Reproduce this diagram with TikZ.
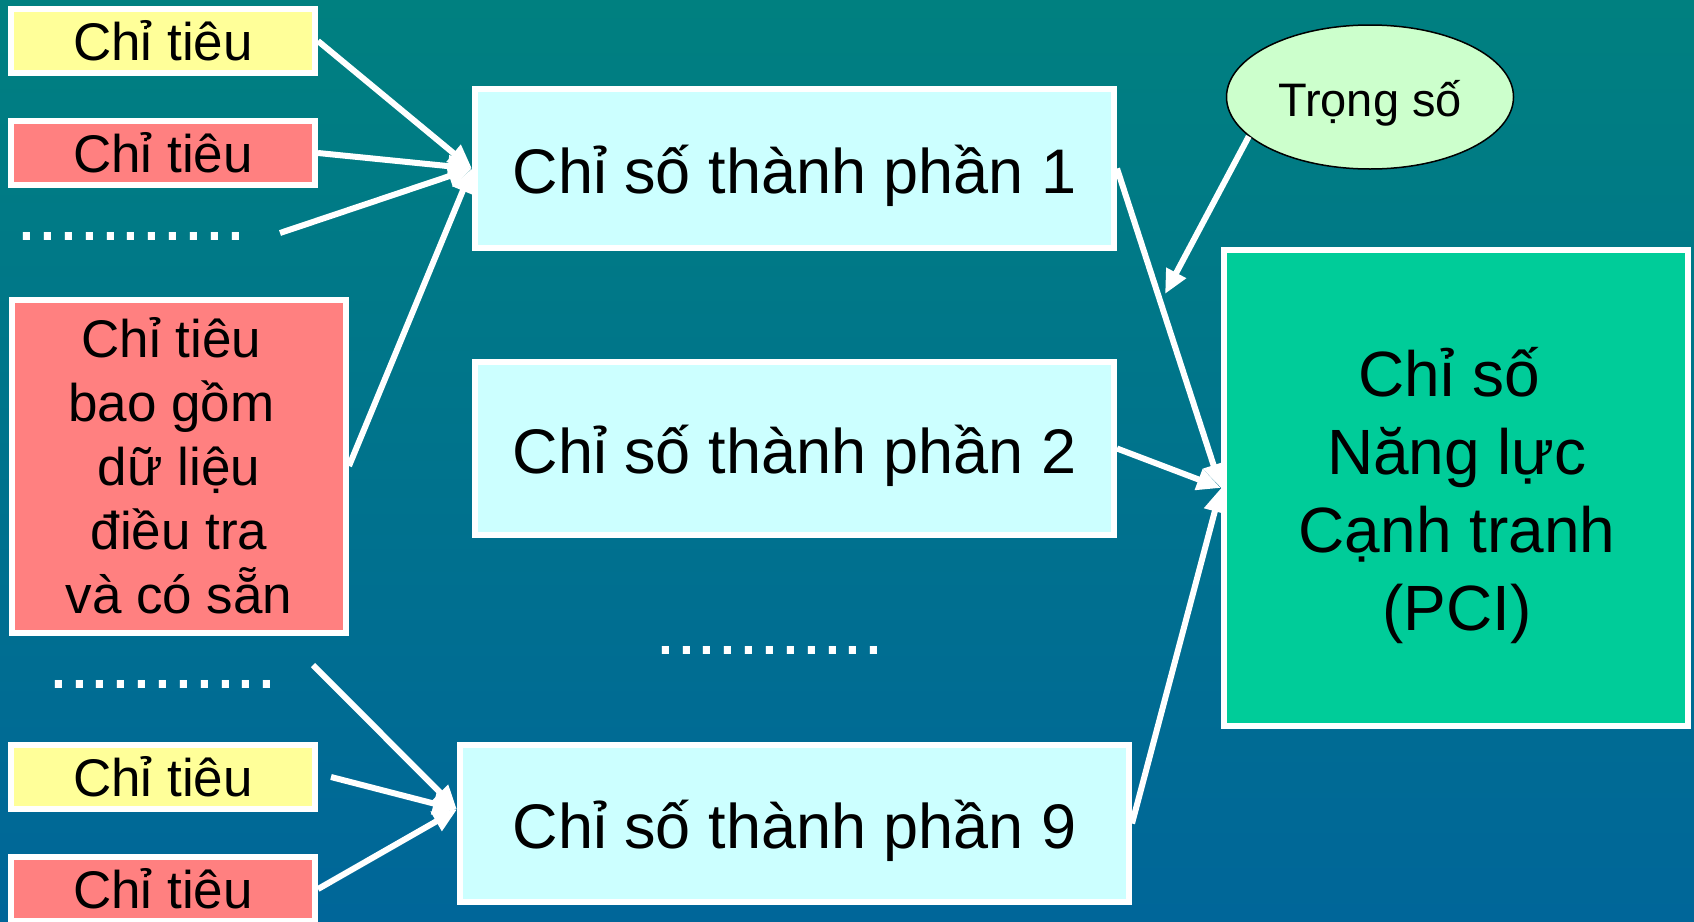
\documentclass[tikz,border=0pt]{standalone}
\usepackage{fontspec}
\setmainfont{Liberation Sans}
\usetikzlibrary{arrows.meta,shapes.geometric,calc}
\definecolor{bgtop}{RGB}{0,128,128}
\definecolor{bgbot}{RGB}{0,102,153}
\definecolor{cyel}{RGB}{255,255,153}
\definecolor{cred}{RGB}{255,128,128}
\definecolor{ccyan}{RGB}{204,255,255}
\definecolor{cgreen}{RGB}{0,204,153}
\definecolor{cell}{RGB}{204,255,204}
\begin{document}
\begin{tikzpicture}[x=1pt,y=-1pt,
  wbox/.style={draw=white,line width=6pt,inner sep=0pt,align=center,text=black},
  smallbox/.style={wbox,minimum width=304pt,minimum height=64pt,font=\fontsize{53}{64}\selectfont},
  midbox/.style={wbox,fill=ccyan,font=\fontsize{63}{76}\selectfont,text height=50pt,text depth=0pt},
  conn/.style={draw=white,line width=6pt,-{Triangle[length=24pt,width=21pt]}},
  dotrow/.style={inner sep=0pt,anchor=base west,text=white,font=\fontsize{75}{80}\selectfont}
]
\clip (0,0) rectangle (1694,921);
\shade[top color=bgtop,bottom color=bgbot] (0,0) rectangle (1694,921);

% left column
\node[smallbox,fill=cyel] (y1) at (163,41) {Chỉ tiêu};
\node[smallbox,fill=cred] (r1) at (163,153) {Chỉ tiêu};
\node[dotrow] (d1) at (16.5,240) {...........};
\node[wbox,fill=cred,minimum width=334pt,minimum height=333pt,font=\fontsize{53}{64}\selectfont] (big) at (179,466)
  {\mbox{Chỉ tiêu\kern15pt}\\\mbox{bao gồm\kern15pt}\\dữ liệu\\điều tra\\và có sẵn};
\node[dotrow] (d2) at (48,688) {...........};
\node[smallbox,fill=cyel] (y2) at (163,777) {Chỉ tiêu};
\node[smallbox,fill=cred] (r2) at (163,889) {Chỉ tiêu};

% middle column
\node[midbox,minimum width=639pt,minimum height=159pt] (b1) at (794.5,168.5) {Chỉ số thành phần 1};
\node[midbox,minimum width=639pt,minimum height=173pt] (b2) at (794.5,448.5) {Chỉ số thành phần 2};
\node[dotrow] (dm) at (655,654) {...........};
\node[midbox,minimum width=669pt,minimum height=157pt] (b9) at (794.5,823.5) {Chỉ số thành phần 9};

% right column
\node[wbox,fill=cgreen,minimum width=464pt,minimum height=476pt] (pci) at (1456,488) {};
\node[align=center,inner sep=0pt,font=\fontsize{64}{78}\selectfont] (pcit) at ($(pci.center)+(1,8)$)
  {Chỉ số\hspace*{16pt}\\Năng lực\\Cạnh tranh\\(PCI)};
\node[ellipse,draw=black,line width=1.5pt,fill=cell,inner sep=0pt,minimum width=287pt,minimum height=144pt,
  font=\fontsize{47}{56}\selectfont,text height=38pt,text depth=0pt] (tr) at (1370,97) {Trọng số};

% connector end points
\coordinate (d1e) at (280,233);
\coordinate (d2e) at (313,665);
\coordinate (y2e) at ($(y2.east)+(13,0)$);
\coordinate (t9) at ($(b9.west)+(0,-14)$);
\coordinate (tw) at (1165,294);

% connectors
\draw[conn] (y1.east) -- (b1.west);
\draw[conn] (r1.east) -- (b1.west);
\draw[conn] (d1e) -- (b1.west);
\draw[conn] (big.east) -- (b1.west);
\draw[conn] (d2e) -- (t9);
\draw[conn] (y2e) -- (t9);
\draw[conn] (r2.east) -- (t9);
\draw[conn] (b1.east) -- (pci.west);
\draw[conn] (b2.east) -- (pci.west);
\draw[conn] (b9.east) -- (pci.west);
\draw[conn] (tr.198) -- (tw);
\end{tikzpicture}
\end{document}
